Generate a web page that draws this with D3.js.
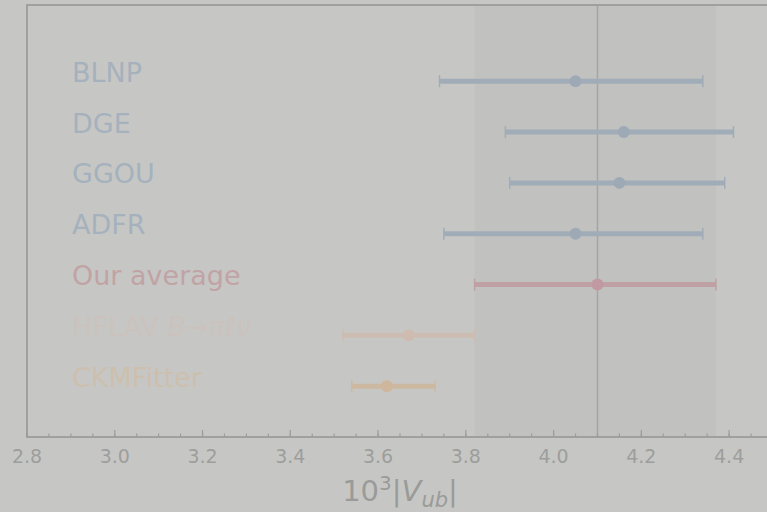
<!DOCTYPE html>
<html>
<head>
<meta charset="utf-8">
<script src="https://cdn.jsdelivr.net/npm/d3@7/dist/d3.min.js"></script>
<style>
  html, body { margin: 0; padding: 0; background: #c6c7c4; }
  svg { display: block; font-family: "DejaVu Sans", sans-serif; }
</style>
</head>
<body>
<svg id="chart" width="767" height="512"></svg>
<script>
// |V_ub| determinations (x 10^3): central value with lower and upper bounds
const labels  = ["BLNP", "DGE", "GGOU", "ADFR", "Our average", "HFLAV", "CKMFitter"];
const central = [4.05, 4.16, 4.15, 4.05, 4.10, 3.67, 3.62];
const lower   = [3.74, 3.89, 3.90, 3.75, 3.82, 3.52, 3.54];
const upper   = [4.34, 4.41, 4.39, 4.34, 4.37, 3.82, 3.73];
const groups  = ["theory", "theory", "theory", "theory", "average", "hflav", "ckm"];
const xTicks  = [2.8, 3.0, 3.2, 3.4, 3.6, 3.8, 4.0, 4.2, 4.4];
const averageBand = [3.82, 4.37];
const averageLine = 4.10;

const barColor  = { theory: "#a0acb7", average: "#bfa0a4", hflav: "#cdbcb2", ckm: "#cdb9a1" };
const dotColor  = { theory: "#9daab6", average: "#c09aa0", hflav: "#cfbbb0", ckm: "#ceb79d" };
const textColor = { theory: "#a5b1bd", average: "#c1a3a5", hflav: "#cbc2bd", ckm: "#cdbfae" };

const svg = d3.select("#chart");
const plotLeft = 27, plotTop = 5, plotBottom = 437, plotRight = 773;

const x = d3.scaleLinear().domain([2.8, 4.5]).range([plotLeft, plotRight]);
const y = d3.scaleLinear().domain([-1.5, 7]).range([plotTop, plotBottom]);

// average band and central line
svg.append("rect")
  .attr("x", x(averageBand[0])).attr("y", plotTop)
  .attr("width", x(averageBand[1]) - x(averageBand[0]))
  .attr("height", plotBottom - plotTop)
  .attr("fill", "#c1c2bf");

svg.append("line")
  .attr("x1", x(averageLine)).attr("x2", x(averageLine))
  .attr("y1", plotTop).attr("y2", plotBottom)
  .attr("stroke", "#a4a5a4").attr("stroke-width", 1.5);

// error bars
const rows = labels.map((l, i) => ({ label: l, i, c: central[i], lo: lower[i], hi: upper[i], g: groups[i] }));

const g = svg.append("g");
g.selectAll("line.bar").data(rows).join("line")
  .attr("class", "bar")
  .attr("x1", d => x(d.lo)).attr("x2", d => x(d.hi))
  .attr("y1", d => y(d.i)).attr("y2", d => y(d.i))
  .attr("stroke", d => barColor[d.g]).attr("stroke-width", 5);

["lo", "hi"].forEach(k => {
  g.selectAll("line.cap-" + k).data(rows).join("line")
    .attr("class", "cap-" + k)
    .attr("x1", d => x(d[k])).attr("x2", d => x(d[k]))
    .attr("y1", d => y(d.i) - 6).attr("y2", d => y(d.i) + 6)
    .attr("stroke", d => barColor[d.g]).attr("stroke-width", 1.5);
});

g.selectAll("circle").data(rows).join("circle")
  .attr("cx", d => x(d.c)).attr("cy", d => y(d.i)).attr("r", 6)
  .attr("fill", d => dotColor[d.g]);

// row labels
const txt = svg.selectAll("text.lab").data(rows).join("text")
  .attr("class", "lab")
  .attr("x", 72).attr("y", d => y(d.i) + 0.5)
  .attr("font-size", 27)
  .attr("fill", d => textColor[d.g]);
txt.each(function(d) {
  const t = d3.select(this);
  if (d.label === "HFLAV") {
    t.append("tspan").text("HFLAV ");
    t.append("tspan").attr("font-style", "italic").text("B");
    t.append("tspan").text("→");
    t.append("tspan").attr("font-style", "italic").text("πℓν");
  } else {
    t.text(d.label);
  }
});

// frame
svg.append("rect")
  .attr("x", plotLeft).attr("y", plotTop)
  .attr("width", plotRight - plotLeft).attr("height", plotBottom - plotTop)
  .attr("fill", "none").attr("stroke", "#9c9d9b").attr("stroke-width", 1.8);

// x axis with inward ticks
const axis = svg.append("g").attr("transform", `translate(0,${plotBottom})`);
const minor = d3.range(2.8, 4.5001, 0.05).map(v => +v.toFixed(2));
axis.selectAll("line.minor").data(minor).join("line")
  .attr("class", "minor")
  .attr("x1", d => x(d)).attr("x2", d => x(d))
  .attr("y1", 0).attr("y2", -3.5)
  .attr("stroke", "#9c9d9b").attr("stroke-width", 1.2);
axis.selectAll("line.major").data(xTicks).join("line")
  .attr("class", "major")
  .attr("x1", d => x(d)).attr("x2", d => x(d))
  .attr("y1", 0).attr("y2", -7)
  .attr("stroke", "#9c9d9b").attr("stroke-width", 1.2);
axis.selectAll("text").data(xTicks).join("text")
  .attr("x", d => x(d)).attr("y", 26)
  .attr("text-anchor", "middle").attr("font-size", 19)
  .attr("fill", "#9d9e9c")
  .text(d => d3.format(".1f")(d));

// axis title: 10^3 |V_ub|
const title = svg.append("text")
  .attr("x", x(3.65)).attr("y", 501)
  .attr("text-anchor", "middle").attr("font-size", 29)
  .attr("fill", "#9a9b99");
title.append("tspan").text("10");
title.append("tspan").attr("dy", -11).attr("font-size", 20).text("3");
title.append("tspan").attr("dy", 11).text("|");
title.append("tspan").attr("font-style", "italic").text("V");
title.append("tspan").attr("font-style", "italic").attr("dy", 6).attr("font-size", 21).text("ub");
title.append("tspan").attr("dy", -6).text("|");
</script>
</body>
</html>
